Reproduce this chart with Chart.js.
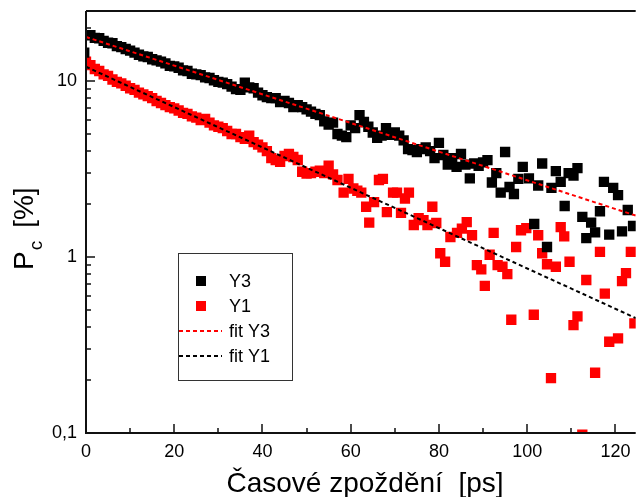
<!DOCTYPE html>
<html>
<head>
<meta charset="utf-8">
<script src="https://cdn.jsdelivr.net/npm/chart.js@4/dist/chart.umd.min.js"></script>
<style>
  html, body { margin: 0; padding: 0; background: #fff; }
  #wrap { width: 643px; height: 497px; position: relative; }
</style>
</head>
<body>
<div id="wrap"><canvas id="chart"></canvas></div>
<script>
// Y3 (black squares)
const y3Delay = [-0.4, 1, 2, 3, 4, 5, 6, 7, 8, 9, 10, 11, 12, 13, 14, 15, 16, 17, 18, 19,
  20, 21, 22, 23, 24, 25, 26, 27, 28, 29, 30, 31, 32, 33, 34, 35, 36, 37, 38, 39,
  40, 41, 42, 43, 44, 45, 46, 47, 48, 49, 50, 51, 52, 53, 54, 55, 56, 57, 58, 59,
  60, 61, 62, 63, 64, 65, 66, 67, 68, 69, 70, 71, 72, 73, 74, 75, 76, 77, 78, 79,
  80, 81, 82, 83, 84, 85, 86, 87, 88, 89, 90, 91, 92, 93, 94, 95, 96, 97, 98, 99,
  100.4, 101.6, 102.5, 103.4, 104.5, 105.5, 106.5, 107.6, 108.5, 109.4, 110.5, 111.4,
  112.5, 113.4, 114.5, 115.4, 116.5, 117.4, 118.6, 119.5, 120.6, 121.5, 122.8, 124];
const y3Values = [14.5, 18.2, 17.6, 17.5, 16.9, 16.5, 16.4, 15.8, 15.6, 15.2, 14.9, 14.5, 14.1, 13.8, 13.7, 13.3, 13.1, 12.9, 12.6, 12.2,
  12.1, 11.9, 11.5, 11.4, 11.0, 10.9, 10.8, 10.5, 10.4, 10.1, 9.9, 9.8, 9.6, 9.3, 9.0, 8.9, 9.8, 9.2, 9.1, 8.6,
  8.3, 8.1, 8.0, 8.0, 7.6, 7.7, 7.5, 7.1, 7.3, 7.1, 6.9, 6.7, 6.5, 6.4, 5.9, 5.65, 5.8, 5.0, 4.9, 4.8,
  5.6, 5.4, 6.4, 5.85, 5.5, 5.1, 4.75, 4.9, 5.4, 4.95, 5.1, 4.9, 4.6, 4.1, 4.05, 3.95, 4.1, 4.2, 4.0, 3.65,
  4.45, 3.8, 3.35, 3.65, 3.25, 3.85, 3.35, 2.8, 3.4, 3.3, 3.45, 3.55, 2.65, 3.0, 2.32, 3.95, 2.5, 2.28, 2.78, 3.25,
  2.8, 1.54, 2.55, 3.4, 1.14, 2.47, 3.08, 2.67, 1.95, 3.0, 2.9, 3.2,
  1.69, 1.28, 1.57, 1.38, 1.82, 2.67, 1.34, 2.47, 2.25, 1.40, 1.85, 1.5];

// Y1 (red squares)
const y1Delay = [0, 1, 2, 3, 4, 5, 6, 7, 8, 9, 10, 11, 12, 13, 14, 15, 16, 17, 18, 19,
  20, 21, 22, 23, 24, 25, 26, 27, 28, 29, 30, 31, 32, 33, 34, 35, 36, 37, 38, 39,
  40, 41, 42, 43, 44, 45, 46, 47, 48, 49, 50, 51, 52, 53, 54, 55, 56, 57, 58.4, 59.5,
  60.6, 61.5, 62.4, 63.5, 64.2, 65.3, 66.4, 67.3, 68.2, 69.6, 70.5, 71.4, 72.3, 73.2, 74.3,
  75.4, 76.5, 77.4, 78.5, 79.4, 80.3, 81.4, 82.6, 84.1, 85.2, 86.3, 87.5, 88.6, 89.6, 90.4,
  91.5, 92.4, 93.3, 94.4, 95.5, 96.4, 97.5, 98.6, 99.8, 101.5, 102.5, 103.4, 104.5, 105.4,
  106.5, 107.6, 108.4, 109.6, 110.5, 111.4, 112.5, 113.4, 115.4, 116.5, 117.6, 118.6,
  120.6, 121.5, 122.4, 123.5, 124.3];
const y1Values = [12.9, 12.3, 11.7, 11.4, 10.9, 10.7, 10.2, 9.9, 9.7, 9.4, 9.1, 8.9, 8.6, 8.4, 8.2, 8.0, 7.7, 7.5, 7.3, 7.1,
  7.0, 6.8, 6.6, 6.5, 6.3, 6.2, 6.0, 6.1, 5.8, 5.6, 5.5, 5.4, 5.2, 5.0, 5.0, 4.8, 4.7, 4.9, 4.5, 4.35,
  4.2, 4.0, 3.65, 3.55, 3.47, 3.75, 3.85, 3.7, 3.56, 3.05, 2.98, 3.0, 3.05, 3.1, 3.0, 3.3, 2.95, 2.74, 2.32, 2.78,
  2.45, 2.38, 2.32, 1.93, 1.57, 2.05, 2.74, 2.78, 1.80, 2.32, 2.32, 1.78, 2.15, 2.32, 1.52,
  1.66, 1.62, 1.52, 1.93, 1.56, 1.05, 0.94, 1.30, 1.37, 1.45, 1.58, 1.33, 0.9, 0.85, 0.685,
  1.03, 1.37, 0.9, 0.88, 0.8, 0.44, 1.14, 1.42, 1.46, 0.47, 1.33, 1.05, 0.91, 0.205,
  0.88, 1.48, 1.31, 0.94, 0.41, 0.46, 0.098, 0.74, 0.22, 1.07, 0.62, 0.33,
  0.345, 0.73, 0.81, 1.07, 0.42];

// exponential fits (straight lines on the log axis)
const fitDelay = [0, 124.6];
const fitY3Values = [17.8, 1.72];
const fitY1Values = [12.05, 0.45];

const xMajorTicks = [0, 20, 40, 60, 80, 100, 120];
const xMinorTicks = [10, 30, 50, 70, 90, 110];
const yMajorTicks = [0.1, 1, 10];
const yTickLabels = ['0,1', '1', '10'];
const yMinorTicks = [0.2, 0.3, 0.4, 0.5, 0.6, 0.7, 0.8, 0.9, 2, 3, 4, 5, 6, 7, 8, 9, 20];

const xTitle = 'Časové zpoždění  [ps]';
const legendLabels = ['Y3', 'Y1', 'fit Y3', 'fit Y1'];

const FONT = "'Liberation Sans', Arial, sans-serif";
const RED = '#ff0000';
const BLACK = '#000000';

const toPoints = (xs, ys) => xs.map((x, i) => ({ x: x, y: ys[i] }));

// axes, inward ticks, labels, titles and the boxed legend
const frameAndLegend = {
  id: 'frameAndLegend',
  afterDatasetsDraw(chart) {
    const { ctx, chartArea: a, scales: { x, y } } = chart;
    ctx.save();
    ctx.strokeStyle = '#111';
    ctx.lineWidth = 2;
    ctx.beginPath();
    ctx.moveTo(a.left, a.top);
    ctx.lineTo(a.right, a.top);
    ctx.moveTo(a.left, a.top);
    ctx.lineTo(a.left, a.bottom);
    ctx.lineTo(a.right, a.bottom);
    ctx.stroke();

    ctx.lineWidth = 1.5;
    ctx.beginPath();
    xMajorTicks.forEach(v => { const p = Math.round(x.getPixelForValue(v)); ctx.moveTo(p, a.bottom); ctx.lineTo(p, a.bottom - 9); });
    xMinorTicks.forEach(v => { const p = Math.round(x.getPixelForValue(v)); ctx.moveTo(p, a.bottom); ctx.lineTo(p, a.bottom - 5); });
    yMajorTicks.forEach(v => { const p = Math.round(y.getPixelForValue(v)); ctx.moveTo(a.left, p); ctx.lineTo(a.left + 9, p); });
    yMinorTicks.forEach(v => { const p = Math.round(y.getPixelForValue(v)); ctx.moveTo(a.left, p); ctx.lineTo(a.left + 5, p); });
    ctx.stroke();

    ctx.fillStyle = '#000';
    ctx.font = '18px ' + FONT;
    ctx.textAlign = 'center';
    ctx.textBaseline = 'middle';
    xMajorTicks.forEach(v => ctx.fillText(String(v), x.getPixelForValue(v), a.bottom + 19));
    ctx.textAlign = 'right';
    yMajorTicks.forEach((v, i) => ctx.fillText(yTickLabels[i], a.left - 9, y.getPixelForValue(v)));

    // x title
    ctx.font = '28px ' + FONT;
    ctx.textAlign = 'center';
    ctx.textBaseline = 'alphabetic';
    ctx.fillText(xTitle, 365, 492);

    // y title with subscript
    ctx.save();
    ctx.translate(33, 270);
    ctx.rotate(-Math.PI / 2);
    ctx.textAlign = 'left';
    ctx.font = '28px ' + FONT;
    ctx.fillText('P', 0, 0);
    let w = ctx.measureText('P').width;
    ctx.font = '19px ' + FONT;
    ctx.fillText('c', w + 1, 9);
    w += ctx.measureText('c').width + 14;
    ctx.font = '28px ' + FONT;
    ctx.fillText('[%]', w, 0);
    ctx.restore();

    // legend
    const box = { l: 178, t: 253, r: 292, b: 380 };
    ctx.fillStyle = '#fff';
    ctx.fillRect(box.l, box.t, box.r - box.l, box.b - box.t);
    ctx.strokeStyle = '#333';
    ctx.lineWidth = 1;
    ctx.strokeRect(box.l + 0.5, box.t + 0.5, box.r - box.l, box.b - box.t);
    const rowY = [281, 306, 331, 356];
    chart.data.datasets.forEach(ds => {
      const yy = rowY[legendLabels.indexOf(ds.label)];
      if (ds.showLine) {
        ctx.strokeStyle = ds.borderColor;
        ctx.lineWidth = ds.borderWidth;
        ctx.setLineDash(ds.borderDash);
        ctx.beginPath();
        ctx.moveTo(box.l + 1, yy);
        ctx.lineTo(222, yy);
        ctx.stroke();
        ctx.setLineDash([]);
      } else {
        ctx.fillStyle = ds.backgroundColor;
        ctx.fillRect(196, yy - 5, 10, 10);
      }
      ctx.fillStyle = '#000';
      ctx.font = '18px ' + FONT;
      ctx.textAlign = 'left';
      ctx.textBaseline = 'middle';
      ctx.fillText(ds.label, 229, yy + 1);
    });
    ctx.restore();
  }
};

new Chart(document.getElementById('chart'), {
  type: 'scatter',
  data: {
    datasets: [
      { label: 'fit Y3', data: toPoints(fitDelay, fitY3Values), showLine: true, borderColor: RED,
        borderWidth: 2, borderDash: [4, 3], pointRadius: 0, order: 0 },
      { label: 'fit Y1', data: toPoints(fitDelay, fitY1Values), showLine: true, borderColor: BLACK,
        borderWidth: 2, borderDash: [4, 3], pointRadius: 0, order: 1 },
      { label: 'Y3', data: toPoints(y3Delay, y3Values), backgroundColor: BLACK, borderColor: BLACK,
        borderWidth: 0, pointStyle: 'rect', pointRadius: 7.3, order: 2 },
      { label: 'Y1', data: toPoints(y1Delay, y1Values), backgroundColor: RED, borderColor: RED,
        borderWidth: 0, pointStyle: 'rect', pointRadius: 7.3, order: 3 }
    ]
  },
  options: {
    responsive: true,
    maintainAspectRatio: false,
    animation: false,
    layout: { padding: { left: 86, top: 11, right: 0, bottom: 64 } },
    scales: {
      x: { type: 'linear', min: 0, max: 124.6, display: false },
      y: { type: 'logarithmic', min: 0.1, max: 25, display: false }
    },
    plugins: {
      legend: { display: false },
      tooltip: { enabled: false }
    }
  },
  plugins: [frameAndLegend]
});
</script>
</body>
</html>
